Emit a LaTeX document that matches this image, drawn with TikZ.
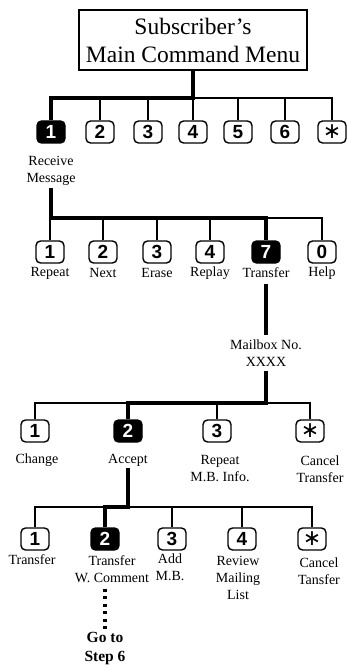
\documentclass[tikz,border=0pt]{standalone}
\usepackage{fontspec}
\usetikzlibrary{calc}
\setmainfont{Liberation Serif}
\newfontfamily\keyfont{Liberation Sans}
\newfontfamily\symfont{DejaVu Sans}
\begin{document}
\begin{tikzpicture}[x=1pt,y=-1pt,
  key/.style={draw,line width=1.4pt,rounded corners=4.5pt,minimum width=28pt,minimum height=22pt,inner sep=0pt,
    font=\keyfont\bfseries\fontsize{19}{19}\selectfont},
  selkey/.style={key,fill=black,text=white},
  starkey/.style={key,font=\symfont\fontsize{22}{22}\selectfont},
  lbl/.style={font=\fontsize{14}{17}\selectfont,align=center,inner sep=2pt},
  wire/.style={line width=1.2pt},
  mainwire/.style={line width=4.5pt,line join=miter,line cap=butt}]
\useasboundingbox (0,0) rectangle (347,671);

% top box
\node[draw,line width=1.2pt,minimum width=228pt,minimum height=60pt,inner sep=0pt,
  font=\fontsize{23.5}{28}\selectfont,align=center] (menu) at (193,40) {Subscriber's\\Main Command Menu};

% row 1
\node[selkey] (m1) at (51,132) {1};
\node[key] (m2) at (100,132) {2};
\node[key] (m3) at (148,132) {3};
\node[key] (m4) at (193,132) {4};
\node[key] (m5) at (238,132) {5};
\node[key] (m6) at (285,132) {6};
\node[starkey] (m7) at (332,132) {∗};
\coordinate (j1) at (193,98);
\draw[wire] (j1) -| (m7.north);
\foreach \k in {m2,m3,m4,m5,m6} \draw[wire] (\k.north) -- (\k.north |- j1);
\draw[mainwire] (menu.south) -- (j1) -| (m1.north);

\node[lbl] (rm) at (51,171) {Receive\\Message};

% row 2
\node[key] (r1) at (50,252) {1};
\node[key] (r2) at (103,252) {2};
\node[key] (r3) at (157,252) {3};
\node[key] (r4) at (210,252) {4};
\node[selkey] (r5) at (266,252) {7};
\node[key] (r6) at (322,252) {0};
\foreach \k/\t in {r1/Repeat,r2/Next,r3/Erase,r4/Replay,r5/Transfer,r6/Help}
  \node[lbl] (\k l) at ($(\k)+(0,21)$) {\t};
\coordinate (j2) at (51,218);
\draw[wire] (j2) -| (r6.north);
\foreach \k in {r1,r2,r3,r4} \draw[wire] (\k.north) -- (\k.north |- j2);
\draw[mainwire] (rm.south) -- (j2) -| (r5.north);

% mailbox
\node[lbl,inner sep=4pt] (mb) at (266,353) {Mailbox No.\\XXXX};
\draw[mainwire] ($(r5l.south)+(0,4)$) -- (mb.north);

% row 3
\node[key] (a1) at (35,431) {1};
\node[selkey] (a2) at (128,431) {2};
\node[key] (a3) at (217,431) {3};
\node[starkey] (a4) at (310,431) {∗};
\coordinate (j3) at (266,403);
\draw[wire] (a1.north) |- (j3) -| (a4.north);
\draw[wire] (a3.north) -- (a3.north |- j3);
\draw[mainwire] (mb.south) -- (j3) -| (a2.north);

\node[lbl] (a1l) at (37,460) {Change};
\node[lbl] (a2l) at (128,460) {Accept};
\node[lbl] (a3l) at (220,469) {Repeat\\M.B. Info.};
\node[lbl] (a4l) at (320,469) {Cancel\\Transfer};

% row 4
\node[key] (b1) at (35,539) {1};
\node[selkey] (b2) at (105,539) {2};
\node[key] (b3) at (172,539) {3};
\node[key] (b4) at (242,539) {4};
\node[starkey] (b5) at (312,539) {∗};
\coordinate (j4) at (128,507);
\draw[wire] (b1.north) |- (j4) -| (b5.north);
\foreach \k in {b3,b4} \draw[wire] (\k.north) -- (\k.north |- j4);
\draw[mainwire] (a2l.south) -- (j4) -| (b2.north);

\node[lbl] (b1l) at (32,560) {Transfer};
\node[lbl] (b2l) at (112,569) {Transfer\\W. Comment};
\node[lbl] (b3l) at (170,567) {Add\\M.B.};
\node[lbl] (b4l) at (238,578) {Review\\Mailing\\List};
\node[lbl] (b5l) at (319,571) {Cancel\\Tansfer};

\node[lbl,font=\bfseries\fontsize{15.5}{19}\selectfont] (go) at (105,649) {Go to\\Step 6};
\draw[line width=3.5pt,dash pattern=on 3pt off 4.5pt] ($(b2l.south)+(-7,4)$) -- ($(go.north)+(0,-2)$);
\end{tikzpicture}
\end{document}
